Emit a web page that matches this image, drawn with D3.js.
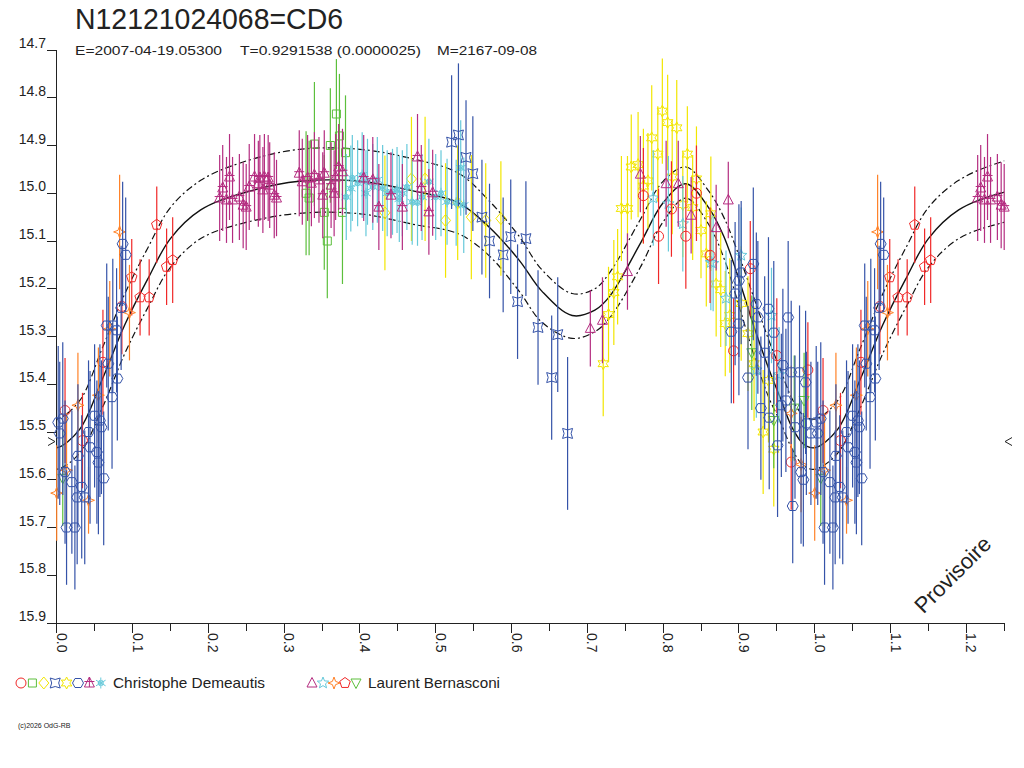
<!DOCTYPE html>
<html><head><meta charset="utf-8">
<script src="https://cdn.jsdelivr.net/npm/d3@7"></script>
<style>
html,body{margin:0;padding:0;background:#fff;}
svg{display:block;font-family:"Liberation Sans",Arial,sans-serif;}
</style></head>
<body>
<svg id="c" width="1024" height="768"></svg>
<script>
// ---------- DATA ----------
const titleText = "N12121024068=CD6";
const subE = "E=2007-04-19.05300";
const subT = "T=0.9291538 (0.0000025)";
const subM = "M=2167-09-08";
const observer1 = "Christophe Demeautis";
const observer2 = "Laurent Bernasconi";
const yTicks = [14.7,14.8,14.9,15.0,15.1,15.2,15.3,15.4,15.5,15.6,15.7,15.8,15.9];
const xMajorTicks = [0.0,0.1,0.2,0.3,0.4,0.5,0.6,0.7,0.8,0.9,1.0,1.1,1.2];
const xMinorTicks = [0.05,0.15,0.25,0.35,0.45,0.55,0.65,0.75,0.85,0.95,1.05,1.15,1.25];
const minMag = 15.52;

// mean light curve and envelope (phase 0..1, repeated)
const curvePhase = [0,0.03,0.06,0.09,0.12,0.15,0.19,0.245,0.32,0.40,0.47,0.53,0.57,0.61,0.64,0.68,0.71,0.73,0.77,0.80,0.83,0.86,0.88,0.90,0.92,0.94,0.955,0.97,0.985];
const curveMean  = [15.533,15.495,15.39,15.275,15.18,15.095,15.035,15.0,14.975,14.975,14.995,15.02,15.07,15.14,15.205,15.256,15.245,15.215,15.105,15.02,14.98,15.03,15.09,15.18,15.28,15.37,15.43,15.49,15.525];
const curveUpper = [15.473,15.435,15.325,15.21,15.115,15.03,14.973,14.935,14.908,14.908,14.928,14.958,15.015,15.09,15.16,15.21,15.2,15.165,15.055,14.975,14.945,14.995,15.05,15.13,15.22,15.31,15.37,15.43,15.465];
const curveLower = [15.578,15.545,15.45,15.335,15.24,15.155,15.095,15.063,15.042,15.043,15.065,15.085,15.13,15.205,15.27,15.304,15.29,15.26,15.155,15.06,15.01,15.065,15.135,15.235,15.34,15.43,15.48,15.535,15.57];

// observations: [phase, magnitude, error]
const dRedCircle = [[0.011,15.455,0.11],[0.034,15.518,0.1],[0.061,15.354,0.11],[0.086,15.237,0.1],[0.774,15.005,0.1],[0.794,15.09,0.1],[0.811,15.033,0.1],[0.83,15.09,0.11],[0.844,15.0,0.1],[0.862,15.13,0.1],[0.893,15.33,0.11],[0.915,15.158,0.1],[0.95,15.34,0.12],[0.969,15.563,0.1],[0.991,15.37,0.1]];
const dGreenSquare = [[0.329,15.0,0.13],[0.333,15.01,0.12],[0.34,14.897,0.13],[0.353,15.04,0.12],[0.357,15.10,0.12],[0.361,14.90,0.12],[0.369,14.834,0.115],[0.373,14.88,0.13],[0.377,15.04,0.15],[0.381,14.915,0.12]];
const dYellowDiamond = [[0.433,15.041,0.12],[0.468,14.97,0.13],[0.486,14.97,0.13],[0.513,15.057,0.12],[0.529,15.02,0.12],[0.547,15.05,0.13],[0.566,15.057,0.12],[0.586,15.053,0.12]];
const dBlueHourglass = [[0.521,14.893,0.14],[0.530,14.878,0.15],[0.54,14.925,0.12],[0.549,14.959,0.12],[0.561,15.05,0.12],[0.571,15.10,0.12],[0.589,15.129,0.12],[0.599,15.091,0.12],[0.619,15.095,0.12],[0.608,15.227,0.12],[0.635,15.281,0.12],[0.661,15.296,0.12],[0.653,15.386,0.13],[0.674,15.503,0.16]];
const dYellowStar = [[0.721,15.357,0.11],[0.728,15.254,0.1],[0.735,15.208,0.11],[0.74,15.175,0.1],[0.745,15.032,0.11],[0.753,15.032,0.11],[0.758,14.945,0.11],[0.767,14.94,0.11],[0.774,14.985,0.12],[0.78,14.974,0.1],[0.785,14.884,0.11],[0.793,14.918,0.1],[0.799,14.828,0.11],[0.806,14.852,0.1],[0.812,14.966,0.12],[0.818,14.863,0.1],[0.826,15.024,0.11],[0.832,14.918,0.1],[0.839,15.03,0.11],[0.844,14.97,0.11],[0.85,15.078,0.1],[0.857,15.127,0.11],[0.863,15.043,0.12],[0.87,15.19,0.11],[0.876,15.202,0.12],[0.882,15.273,0.11],[0.888,15.256,0.12],[0.903,15.231,0.12],[0.912,15.294,0.12],[0.92,15.357,0.12],[0.932,15.50,0.13],[0.939,15.392,0.13],[0.946,15.536,0.12]];
const dBluePentagon = [[0.002,15.48,0.16],[0.008,15.472,0.16],[0.004,15.503,0.15],[0.011,15.584,0.15],[0.02,15.605,0.15],[0.013,15.70,0.12],[0.024,15.70,0.13],[0.028,15.55,0.15],[0.033,15.615,0.15],[0.027,15.637,0.14],[0.037,15.637,0.14],[0.042,15.50,0.15],[0.044,15.532,0.16],[0.05,15.466,0.15],[0.053,15.542,0.15],[0.055,15.564,0.15],[0.057,15.476,0.16],[0.059,15.49,0.14],[0.062,15.597,0.14],[0.068,15.357,0.14],[0.066,15.277,0.13],[0.074,15.277,0.14],[0.073,15.427,0.15],[0.08,15.388,0.13],[0.087,15.106,0.13],[0.091,15.129,0.12],[0.085,15.24,0.13],[0.079,15.287,0.13],
  [0.89,15.29,0.15],[0.895,15.21,0.15],[0.9,15.183,0.16],[0.9,15.273,0.15],[0.903,15.166,0.15],[0.912,15.386,0.15],[0.919,15.148,0.16],[0.923,15.232,0.15],[0.925,15.26,0.16],[0.929,15.45,0.15],[0.934,15.334,0.16],[0.939,15.242,0.15],[0.94,15.47,0.15],[0.946,15.292,0.15],[0.951,15.528,0.15],[0.956,15.444,0.15],[0.958,15.36,0.16],[0.962,15.434,0.15],[0.965,15.26,0.16],[0.969,15.375,0.15],[0.971,15.655,0.12],[0.974,15.49,0.15],[0.98,15.375,0.14],[0.982,15.584,0.15],[0.985,15.60,0.14],[0.988,15.396,0.15],[0.989,15.482,0.15],[0.995,15.503,0.15]];
const dMagentaTriStar = [[0.215,15.01,0.09],[0.219,14.989,0.09],[0.224,15.014,0.09],[0.228,14.966,0.09],[0.232,15.014,0.09],[0.241,15.008,0.09],[0.246,15.025,0.09],[0.25,15.029,0.09],[0.254,14.987,0.09],[0.261,14.966,0.09],[0.266,14.98,0.09],[0.268,14.968,0.09],[0.272,14.993,0.09],[0.274,14.966,0.09],[0.279,14.968,0.09],[0.281,14.983,0.09],[0.287,15.004,0.09],[0.29,15.01,0.08],[0.32,14.958,0.09],[0.324,14.976,0.09],[0.331,14.968,0.09],[0.336,14.979,0.09],[0.34,14.962,0.09],[0.346,14.972,0.09],[0.351,15.004,0.09],[0.353,14.958,0.09],[0.362,14.983,0.09],[0.366,15.0,0.09],[0.368,14.966,0.09],[0.372,14.945,0.09],[0.377,14.955,0.09],[0.405,14.968,0.09],[0.417,14.972,0.09],[0.425,15.029,0.09],[0.441,15.004,0.09],[0.456,15.029,0.09],[0.476,14.924,0.09],[0.481,14.989,0.09],[0.491,15.039,0.09],[0.496,14.999,0.09]];
const dCyanAsterisk = [[0.382,15.008,0.09],[0.388,14.99,0.09],[0.39,14.968,0.09],[0.397,14.979,0.09],[0.403,14.962,0.09],[0.408,15.0,0.09],[0.41,14.976,0.09],[0.417,14.987,0.09],[0.423,14.972,0.09],[0.43,14.989,0.09],[0.436,15.0,0.09],[0.443,14.997,0.09],[0.449,14.993,0.09],[0.452,15.012,0.09],[0.456,15.0,0.09],[0.462,14.987,0.09],[0.469,15.018,0.09],[0.476,15.02,0.09],[0.482,15.008,0.09],[0.491,14.976,0.09],[0.5,15.008,0.09],[0.507,15.0,0.09],[0.515,15.018,0.09],[0.527,15.02,0.09],[0.533,14.947,0.1],[0.537,15.025,0.1]];
const bMagentaTri = [[0.704,15.283,0.08],[0.72,15.266,0.09],[0.753,15.164,0.08],[0.77,14.96,0.08],[0.804,14.98,0.09],[0.82,14.98,0.09],[0.837,15.046,0.08],[0.87,15.072,0.09],[0.886,15.014,0.08]];
const bCyanStar = [[0.787,15.01,0.1],[0.807,15.022,0.1],[0.826,15.064,0.1],[0.863,15.145,0.1],[0.866,15.147,0.1],[0.883,15.22,0.1],[0.903,15.13,0.1],[0.923,15.37,0.1],[0.943,15.256,0.1],[0.953,15.38,0.1]];
const bOrangeStar = [[0.0,15.628,0.1],[0.013,15.58,0.12],[0.028,15.444,0.11],[0.042,15.643,0.07],[0.055,15.423,0.1],[0.07,15.284,0.1],[0.083,15.081,0.12],[0.096,15.25,0.1],[0.969,15.461,0.1],[0.982,15.568,0.1]];
const bRedPentagon = [[0.099,15.176,0.08],[0.11,15.218,0.08],[0.122,15.218,0.08],[0.132,15.066,0.08],[0.145,15.154,0.08],[0.153,15.14,0.09]];
const bGreenTri = [[0.008,15.597,0.1],[0.917,15.334,0.12],[0.946,15.476,0.1],[0.973,15.45,0.11],[0.986,15.434,0.1]];

// ---------- STYLE ----------
const col = {red:"#f02828", green:"#5cbf3c", yellow:"#f2e600", blue:"#3553a8", magenta:"#b42d80", cyan:"#66c9da", orange:"#ff8228"};
function starPath(n, ro, ri, rot){
  let p=[];
  for(let i=0;i<2*n;i++){const r=i%2?ri:ro; const a=rot+Math.PI*i/n; p.push([r*Math.sin(a), -r*Math.cos(a)]);}
  return "M"+p.map(d=>d[0].toFixed(2)+","+d[1].toFixed(2)).join("L")+"Z";
}
function polyPath(n, r, rot){
  let p=[];
  for(let i=0;i<n;i++){const a=rot+2*Math.PI*i/n; p.push([r*Math.sin(a), -r*Math.cos(a)]);}
  return "M"+p.map(d=>d[0].toFixed(2)+","+d[1].toFixed(2)).join("L")+"Z";
}
const shapes = {
  circle: "M5,0A5,5 0 1,1 -5,0A5,5 0 1,1 5,0Z",
  square: "M-4,-4H4V4H-4Z",
  diamond: "M0,-6L5,0L0,6L-5,0Z",
  hourglass: "M-5,-5Q0,-2 5,-5Q2,0 5,5Q0,2 -5,5Q-2,0 -5,-5Z",
  hexagram: starPath(6,6,3.2,0),
  hexagon: "M-5.5,0L-3,-4.5L3,-4.5L5.5,0L3,4.5L-3,4.5Z",
  tristar: "M0,-6L5,4L-5,4Z M-5,-1.5H5 M0,-6V4",
  asterisk: "M0,-5.5V5.5 M-4.8,-2.8L4.8,2.8 M-4.8,2.8L4.8,-2.8 " + starPath(6,3,1.8,Math.PI/6),
  triangle: "M0,-5.5L5,4L-5,4Z",
  star5: starPath(5,6,2.6,0),
  star4: "M0,-6L1.6,-1.6L6,0L1.6,1.6L0,6L-1.6,1.6L-6,0L-1.6,-1.6Z",
  pentagon: polyPath(5,5.5,0),
  invtri: "M0,5.5L5,-4L-5,-4Z"
};
const series = [
  {data:dYellowStar, shape:"hexagram", color:col.yellow},
  {data:dYellowDiamond, shape:"diamond", color:col.yellow},
  {data:dGreenSquare, shape:"square", color:col.green},
  {data:dCyanAsterisk, shape:"asterisk", color:col.cyan},
  {data:dMagentaTriStar, shape:"tristar", color:col.magenta},
  {data:bCyanStar, shape:"star5", color:col.cyan},
  {data:bMagentaTri, shape:"triangle", color:col.magenta},
  {data:dRedCircle, shape:"circle", color:col.red},
  {data:bRedPentagon, shape:"pentagon", color:col.red},
  {data:bGreenTri, shape:"invtri", color:col.green},
  {data:bOrangeStar, shape:"star4", color:col.orange},
  {data:dBlueHourglass, shape:"hourglass", color:col.blue},
  {data:dBluePentagon, shape:"hexagon", color:col.blue}
];
const legend1 = [["circle",col.red],["square",col.green],["diamond",col.yellow],["hourglass",col.blue],["hexagram",col.yellow],["hexagon",col.blue],["tristar",col.magenta],["asterisk",col.cyan]];
const legend2 = [["triangle",col.magenta],["star5",col.cyan],["star4",col.orange],["pentagon",col.red],["invtri",col.green]];

// ---------- CHART ----------
const svg = d3.select("#c");
const x0 = 56.7, pxPerUnit = 758;
const x = d3.scaleLinear().domain([0, 1.25]).range([x0, x0 + 1.25*pxPerUnit]);
const y = d3.scaleLinear().domain([14.7, 15.9]).range([50, 623]);
const xMax = 1.25;
const ink = "#222";

// title
svg.append("text").attr("x",75).attr("y",29).attr("font-size",29).attr("fill",ink)
  .attr("textLength",268).attr("lengthAdjust","spacingAndGlyphs").text(titleText);
svg.append("text").attr("x",75).attr("y",55).attr("font-size",13).attr("fill",ink)
  .attr("textLength",147).attr("lengthAdjust","spacingAndGlyphs").text(subE);
svg.append("text").attr("x",240).attr("y",55).attr("font-size",13).attr("fill",ink)
  .attr("textLength",181).attr("lengthAdjust","spacingAndGlyphs").text(subT);
svg.append("text").attr("x",437).attr("y",55).attr("font-size",13).attr("fill",ink)
  .attr("textLength",100).attr("lengthAdjust","spacingAndGlyphs").text(subM);

// axes
const ax = svg.append("g").attr("stroke",ink).attr("stroke-width",1).attr("shape-rendering","crispEdges");
ax.append("line").attr("x1",x(0)).attr("x2",x(0)).attr("y1",y(14.7)).attr("y2",y(15.9));
ax.append("line").attr("x1",47).attr("x2",x(1.25)).attr("y1",y(15.9)).attr("y2",y(15.9));
yTicks.forEach(v=>{
  ax.append("line").attr("x1",47).attr("x2",x(0)).attr("y1",y(v)).attr("y2",y(v));
});
xMajorTicks.forEach(v=>{
  ax.append("line").attr("x1",x(v)).attr("x2",x(v)).attr("y1",y(15.9)).attr("y2",y(15.9)+10);
});
xMinorTicks.forEach(v=>{
  ax.append("line").attr("x1",x(v)).attr("x2",x(v)).attr("y1",y(15.9)).attr("y2",y(15.9)+8);
});
const yl = svg.append("g").attr("font-size",14).attr("fill",ink).attr("text-anchor","end");
yTicks.forEach(v=>{
  yl.append("text").attr("x",46).attr("y",y(v)-2).text(d3.format(".1f")(v));
});
const xl = svg.append("g").attr("font-size",14).attr("fill",ink);
xMajorTicks.forEach(v=>{
  xl.append("text").attr("transform",`translate(${x(v)},${y(15.9)+10}) rotate(90)`).text(d3.format(".1f")(v));
});

// min markers
svg.append("path").attr("d",`M48,${y(minMag)-4}L55,${y(minMag)}L48,${y(minMag)+4}`).attr("fill","none").attr("stroke",ink);
svg.append("path").attr("d",`M1012,${y(minMag)-4}L1005,${y(minMag)}L1012,${y(minMag)+4}`).attr("fill","none").attr("stroke",ink);

// curves
function periodic(arr){
  let pts=[];
  [-1,0,1,2].forEach(k=>curvePhase.forEach((p,i)=>pts.push([p+k,arr[i]])));
  pts.sort((a,b)=>a[0]-b[0]);
  return pts;
}
svg.append("clipPath").attr("id","clip").append("rect").attr("x",x(0)).attr("y",0).attr("width",x(1.25)-x(0)).attr("height",640);
const line = d3.line().x(d=>x(d[0])).y(d=>y(d[1])).curve(d3.curveCatmullRom.alpha(0.5));
const cg = svg.append("g").attr("clip-path","url(#clip)").attr("fill","none");

// data
function positions(p){
  let out=[p];
  if(p+1<=xMax) out.push(p+1);
  return out;
}
const dg = svg.append("g");
series.forEach(s=>{
  const g = dg.append("g").attr("stroke",s.color).attr("fill","none").attr("stroke-width",1);
  s.data.forEach(d=>{
    positions(d[0]).forEach(p=>{
      g.append("line").attr("x1",x(p)).attr("x2",x(p)).attr("y1",y(d[1]-d[2])).attr("y2",y(d[1]+d[2]))
        .attr("stroke-width",1.2);
      g.append("path").attr("d",shapes[s.shape]).attr("transform",`translate(${x(p)},${y(d[1])})`);
    });
  });
});

cg.append("path").attr("d",line(periodic(curveUpper))).attr("stroke","#111").attr("stroke-width",1.2).attr("stroke-dasharray","7,3,2,3");
cg.append("path").attr("d",line(periodic(curveLower))).attr("stroke","#111").attr("stroke-width",1.2).attr("stroke-dasharray","7,3,2,3");
cg.append("path").attr("d",line(periodic(curveMean))).attr("stroke","#111").attr("stroke-width",1.4);

// legend
const lg = svg.append("g");
legend1.forEach((l,i)=>{
  lg.append("path").attr("d",shapes[l[0]]).attr("transform",`translate(${21+i*11.4},683)`).attr("fill","none").attr("stroke",l[1]);
});
lg.append("text").attr("x",113).attr("y",688).attr("font-size",15).attr("fill",ink)
  .attr("textLength",152).attr("lengthAdjust","spacingAndGlyphs").text(observer1);
legend2.forEach((l,i)=>{
  lg.append("path").attr("d",shapes[l[0]]).attr("transform",`translate(${312+i*11},683)`).attr("fill","none").attr("stroke",l[1]);
});
lg.append("text").attr("x",368).attr("y",688).attr("font-size",15).attr("fill",ink)
  .attr("textLength",132).attr("lengthAdjust","spacingAndGlyphs").text(observer2);

// copyright
svg.append("text").attr("x",18).attr("y",728).attr("font-size",7).attr("fill",ink).text("(c)2026 OdG-RB");

// watermark
svg.append("text").attr("transform","translate(958,580) rotate(-45)").attr("text-anchor","middle")
  .attr("font-size",22).attr("fill","#222").text("Provisoire");
</script>
</body></html>
